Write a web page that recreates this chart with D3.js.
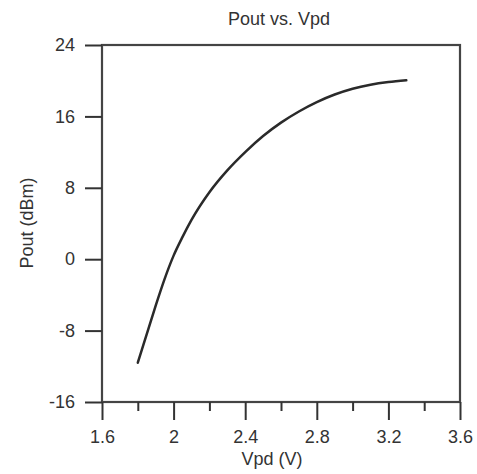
<!DOCTYPE html>
<html><head><meta charset="utf-8">
<script src="https://cdn.jsdelivr.net/npm/d3@7"></script>
<style>html,body{margin:0;padding:0;background:#fff;}svg{display:block;}</style>
</head><body>
<script>
const titleText = "Pout vs. Vpd";
const xLabel = "Vpd (V)";
const yLabel = "Pout (dBm)";
const vpd  = [1.80, 1.85, 1.90, 1.95, 2.00, 2.05, 2.10, 2.20, 2.30, 2.40, 2.50, 2.60, 2.70, 2.80, 2.90, 3.00, 3.10, 3.20, 3.30];
const pout = [-11.6, -8.4, -5.2, -2.2, 0.4, 2.5, 4.4, 7.5, 9.95, 12.0, 13.8, 15.3, 16.55, 17.6, 18.45, 19.1, 19.55, 19.85, 20.05];
const xMajorTicks = [1.6, 2.0, 2.4, 2.8, 3.2, 3.6];
const xTickLabels = ["1.6", "2", "2.4", "2.8", "3.2", "3.6"];
const xMinorTicks = [1.8, 2.2, 2.6, 3.0, 3.4];
const yTicks = [-16, -8, 0, 8, 16, 24];
const yTickLabels = ["-16", "-8", "0", "8", "16", "24"];

const W = 477, H = 474;
const L = 102, R = 460, T = 45, B = 402;
const font = "Arial, 'Liberation Sans', sans-serif";
const ink = "#333";

const svg = d3.select("body").append("svg").attr("width", W).attr("height", H);
const x = d3.scaleLinear().domain([1.6, 3.6]).range([L, R]);
const y = d3.scaleLinear().domain([-16, 24]).range([B, T]);

// frame
svg.append("rect").attr("x", L).attr("y", T).attr("width", R - L).attr("height", B - T)
  .attr("fill", "none").attr("stroke", "#444").attr("stroke-width", 2.2);

// x axis
const xAxis = d3.axisBottom(x).tickValues(xMajorTicks)
  .tickFormat((d, i) => xTickLabels[i]).tickSize(18).tickSizeOuter(0).tickPadding(10);
const gx = svg.append("g").attr("transform", `translate(0,${B})`).call(xAxis);
gx.select(".domain").remove();
gx.selectAll(".tick line").attr("stroke", ink).attr("stroke-width", 2);
gx.selectAll(".tick text").attr("fill", ink).attr("font-size", 18).attr("font-family", font);
const xMinor = d3.axisBottom(x).tickValues(xMinorTicks).tickSize(9).tickFormat("");
const gxm = svg.append("g").attr("transform", `translate(0,${B})`).call(xMinor);
gxm.select(".domain").remove();
gxm.selectAll(".tick line").attr("stroke", ink).attr("stroke-width", 2);

// y axis
const yAxis = d3.axisLeft(y).tickValues(yTicks)
  .tickFormat((d, i) => yTickLabels[i]).tickSize(17).tickSizeOuter(0).tickPadding(10);
const gy = svg.append("g").attr("transform", `translate(${L},0)`).call(yAxis);
gy.select(".domain").remove();
gy.selectAll(".tick line").attr("stroke", ink).attr("stroke-width", 2);
gy.selectAll(".tick text").attr("fill", ink).attr("font-size", 18).attr("font-family", font);

// curve
const data = vpd.map((v, i) => ({ v, p: pout[i] }));
const line = d3.line().x(d => x(d.v)).y(d => y(d.p)).curve(d3.curveMonotoneX);
svg.append("path").datum(data).attr("d", line)
  .attr("fill", "none").attr("stroke", "#2a2a2a").attr("stroke-width", 2.5)
  .attr("stroke-linecap", "round");

// labels
svg.append("text").attr("x", 279).attr("y", 25).attr("text-anchor", "middle")
  .attr("font-family", font).attr("font-size", 18).attr("fill", ink).text(titleText);
svg.append("text").attr("x", 272).attr("y", 465).attr("text-anchor", "middle")
  .attr("font-family", font).attr("font-size", 18).attr("fill", ink).text(xLabel);
svg.append("text").attr("transform", "translate(33,223) rotate(-90)").attr("text-anchor", "middle")
  .attr("font-family", font).attr("font-size", 18).attr("fill", ink).text(yLabel);
</script>
</body></html>
